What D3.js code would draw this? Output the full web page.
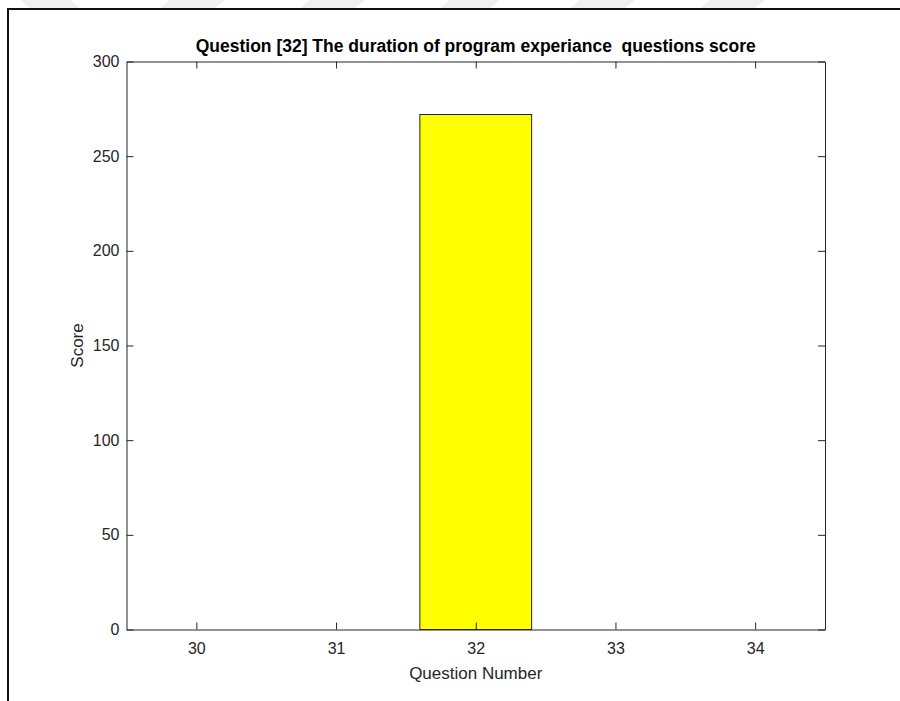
<!DOCTYPE html>
<html>
<head>
<meta charset="utf-8">
<script src="https://cdn.jsdelivr.net/npm/d3@7"></script>
<style>
  body { margin: 0; background: #fff; }
  svg { display: block; font-family: "Liberation Sans", Arial, sans-serif; }
</style>
</head>
<body>
<svg id="chart" width="900" height="701"></svg>
<script>
// Question numbers shown on the x axis and their scores
const questions = [30, 31, 32, 33, 34];
const scores = [0, 0, 272, 0, 0];
const yTicks = [0, 50, 100, 150, 200, 250, 300];
const titleText = "Question [32] The duration of program experiance  questions score";
const xLabel = "Question Number";
const yLabel = "Score";

const svg = d3.select("#chart");
const W = 900, H = 701;
const m = { left: 126.5, right: 825, top: 61.5, bottom: 629.5 };

// faint banner stripes along the top edge
const stripes = [[20, 70, "\\"], [160, 215, "/"], [300, 355, "/"], [440, 490, "/"], [570, 625, "/"], [700, 755, "/"]];
svg.append("g").selectAll("path").data(stripes).join("path")
  .attr("d", d => {
    const [a, b, dir] = d;
    return dir === "/"
      ? `M${a + 10},0 L${b + 10},0 L${b},8 L${a},8 Z`
      : `M${a},0 L${b},0 L${b + 10},8 L${a + 10},8 Z`;
  })
  .attr("fill", "#f0f0f0");

// outer frame
svg.append("path")
  .attr("d", `M8,${H} L8,9 L${W},9`)
  .attr("fill", "none").attr("stroke", "#111").attr("stroke-width", 2);

const x = d3.scaleLinear().domain([29.5, 34.5]).range([m.left, m.right]);
const y = d3.scaleLinear().domain([0, 300]).range([m.bottom, m.top]);
const barW = x(0.8) - x(0);

const axisColor = "#262626";
const fontFam = "'Liberation Sans', Arial, sans-serif";

// bars
svg.append("g").selectAll("rect").data(questions.map((q, i) => ({ q, v: scores[i] })).filter(d => d.v > 0))
  .join("rect")
  .attr("x", d => x(d.q) - barW / 2)
  .attr("y", d => y(d.v))
  .attr("width", barW)
  .attr("height", d => y(0) - y(d.v))
  .attr("fill", "#ffff00")
  .attr("stroke", "#222").attr("stroke-width", 1);

// axes with inward ticks on all four sides
const tickLen = 7;
const axisBottomG = svg.append("g").attr("transform", `translate(0,${m.bottom})`)
  .call(d3.axisBottom(x).tickValues(questions).tickFormat(d3.format("d")).tickSizeInner(-tickLen).tickSizeOuter(0).tickPadding(13));
const axisTopG = svg.append("g").attr("transform", `translate(0,${m.top})`)
  .call(d3.axisTop(x).tickValues(questions).tickFormat("").tickSizeInner(-tickLen).tickSizeOuter(0));
const axisLeftG = svg.append("g").attr("transform", `translate(${m.left},0)`)
  .call(d3.axisLeft(y).tickValues(yTicks).tickFormat(d3.format("d")).tickSizeInner(-tickLen).tickSizeOuter(0).tickPadding(7));
const axisRightG = svg.append("g").attr("transform", `translate(${m.right},0)`)
  .call(d3.axisRight(y).tickValues(yTicks).tickFormat("").tickSizeInner(-tickLen).tickSizeOuter(0));

[axisBottomG, axisTopG, axisLeftG, axisRightG].forEach(g => {
  g.select(".domain").attr("stroke", axisColor);
  g.selectAll(".tick line").attr("stroke", axisColor);
  g.selectAll(".tick text").attr("fill", axisColor).style("font-size", "16px")
    .style("font-family", fontFam);
});

// title and axis labels
svg.append("text").attr("x", (m.left + m.right) / 2).attr("y", 52)
  .attr("text-anchor", "middle").style("font-size", "17.5px").style("font-weight", "bold")
  .style("white-space", "pre")
  .style("font-family", fontFam).attr("fill", "#000").text(titleText);
svg.append("text").attr("x", (m.left + m.right) / 2).attr("y", 679)
  .attr("text-anchor", "middle").style("font-size", "17px").style("font-family", fontFam)
  .attr("fill", axisColor).text(xLabel);
svg.append("text").attr("transform", `translate(83,${(m.top + m.bottom) / 2}) rotate(-90)`)
  .attr("text-anchor", "middle").style("font-size", "17px").style("font-family", fontFam)
  .attr("fill", axisColor).text(yLabel);
</script>
</body>
</html>
